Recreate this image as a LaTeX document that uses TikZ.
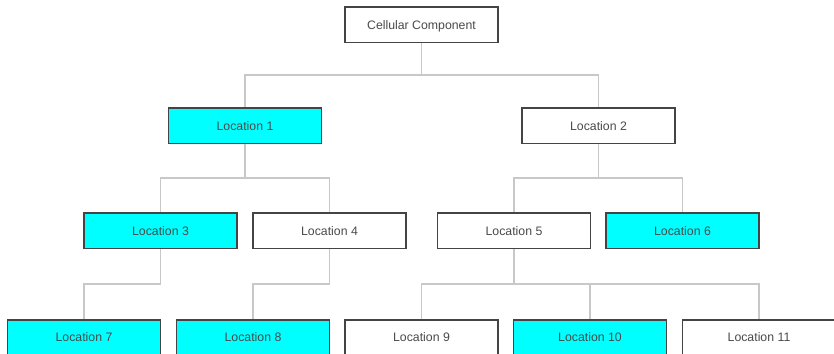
\documentclass[tikz,border=0pt]{standalone}
\usepackage{fontspec}
\setmainfont{Liberation Sans}
\usetikzlibrary{calc}
\definecolor{boxline}{HTML}{444444}
\definecolor{textgray}{HTML}{4A4A4A}
\definecolor{wire}{HTML}{C8C8C8}
\definecolor{hilite}{HTML}{00FFFF}
\tikzset{
  box/.style={draw=boxline, line width=1.6pt, fill=white, minimum width=153pt,
    minimum height=35.5pt, inner sep=0pt, text=textgray,
    text height=8.8pt, text depth=0pt,
    font=\fontsize{12.3pt}{14pt}\selectfont},
  hot/.style={box, fill=hilite},
  conn/.style={draw=wire, line width=1.6pt}
}
\newcommand{\branch}[2]{\draw[conn] (#1.south) |- ($(#1.south)!0.5!(#2.north)$) -| (#2.north);}
\begin{document}
\begin{tikzpicture}[x=1pt,y=-1pt]
\useasboundingbox (0,0) rectangle (834,353);
% tree levels
\node[box] (root) at (421.5,24.7) {Cellular Component};
\node[hot] (l1) at (245,125.8) {Location 1};
\node[box] (l2) at (598.5,125.8) {Location 2};
\node[hot] (l3) at (160.5,230.7) {Location 3};
\node[box] (l4) at (329.5,230.7) {Location 4};
\node[box] (l5) at (514,230.7) {Location 5};
\node[hot] (l6) at (682.5,230.7) {Location 6};
\node[hot] (l7) at (84,337.5) {Location 7};
\node[hot] (l8) at (253,337.5) {Location 8};
\node[box] (l9) at (421.5,337.5) {Location 9};
\node[hot] (l10) at (590,337.5) {Location 10};
\node[box] (l11) at (759,337.5) {Location 11};
% elbow connectors
\branch{root}{l1}
\branch{root}{l2}
\branch{l1}{l3}
\branch{l1}{l4}
\branch{l2}{l5}
\branch{l2}{l6}
\branch{l3}{l7}
\branch{l4}{l8}
\branch{l5}{l9}
\branch{l5}{l10}
\branch{l5}{l11}
\end{tikzpicture}
\end{document}
